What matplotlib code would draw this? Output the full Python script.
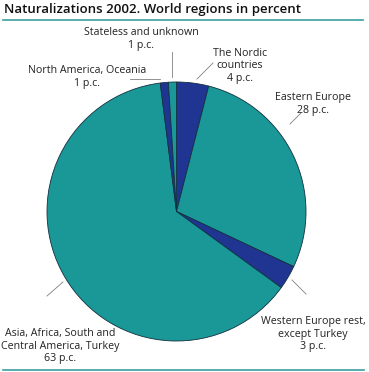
import matplotlib.pyplot as plt

# data
regions = ['The Nordic\ncountries', 'Eastern Europe', 'Western Europe rest,\nexcept Turkey',
           'Asia, Africa, South and\nCentral America, Turkey', 'North America, Oceania',
           'Stateless and unknown']
percent = [4, 28, 3, 63, 1, 1]

teal = '#1a9797'
navy = '#1f3591'
colors = [navy, teal, navy, teal, navy, teal]

W, H = 369, 372
plt.rcParams['font.family'] = ['Open Sans', 'DejaVu Sans']

fig = plt.figure(figsize=(W / 100, H / 100), dpi=100)
ax = fig.add_axes([0, 0, 1, 1])

cx, cy, r = 176.5, H - 211.5, 129.5
ax.pie(percent, colors=colors, startangle=90, counterclock=False,
       center=(cx, cy), radius=r, frame=True,
       wedgeprops=dict(edgecolor='#123040', linewidth=0.6))
ax.set_xlim(0, W)
ax.set_ylim(0, H)
ax.set_aspect('equal')
ax.axis('off')

# label positions (pixels from top-left) and leader lines
label_pos = [(240, 66), (313, 104), (313, 334), (60, 346), (87, 77), (141, 39)]
leaders = [((197, 79), (213, 63)), ((290, 124), (301, 113)), ((292, 280), (306, 294)),
           ((63, 282), (47, 296)), ((130, 79), (160, 79)), ((172, 52), (172, 77))]

for name, val, (lx, ly), ((x0, y0), (x1, y1)) in zip(regions, percent, label_pos, leaders):
    ax.text(lx, H - ly, f'{name}\n{val} p.c.', ha='center', va='center',
            fontsize=7.7, color='#222222', linespacing=1.22)
    ax.plot([x0, x1], [H - y0, H - y1], color='#808080', lw=0.6)

ax.text(4, H - 10, 'Naturalizations 2002. World regions in percent', ha='left', va='center',
        fontsize=9.5, fontweight='semibold', color='#111111')
ax.plot([3, 363], [H - 19.5, H - 19.5], color='#3a9e9e', lw=1.2)
ax.plot([3, 364], [H - 370, H - 370], color='#3a9e9e', lw=1.2)

fig.savefig('out.png', dpi=100)
